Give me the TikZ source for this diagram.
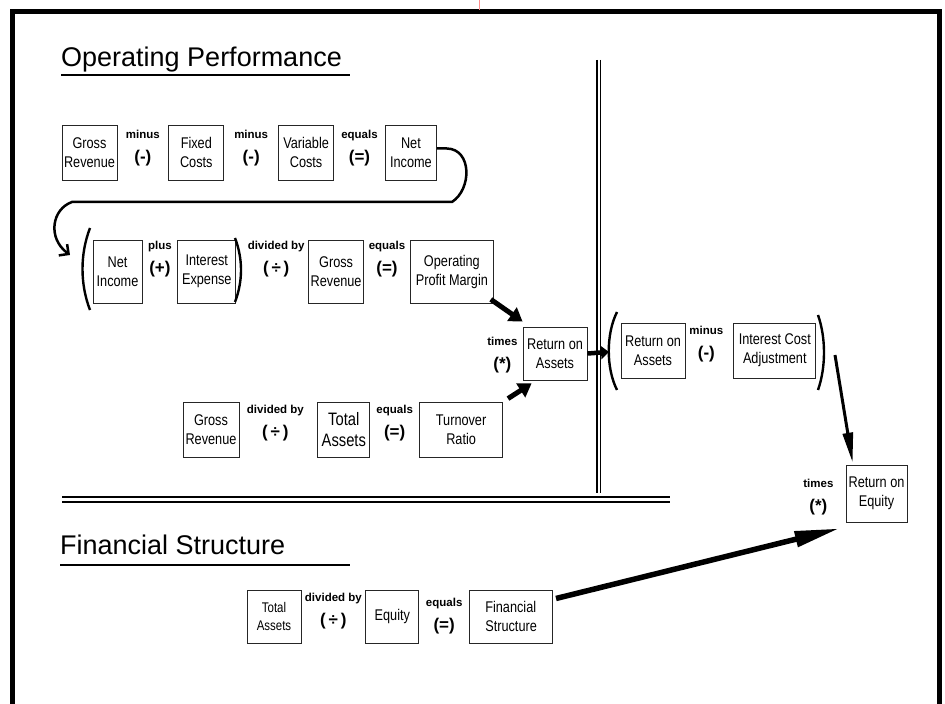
\documentclass[tikz,border=0pt]{standalone}
\usepackage{fontspec}
\setmainfont{Liberation Sans}
\newfontfamily\narrowfont{Liberation Sans}[FakeStretch=0.82]
\usetikzlibrary{arrows.meta, positioning, calc}
\newcommand{\opsign}[1]{{\fontsize{17}{24}\selectfont #1}}

\begin{document}
\begin{tikzpicture}[
        x=1pt, y=1pt,
        box/.style={rectangle, draw=black!85, line width=0.8pt, minimum width=55pt, minimum height=55pt, inner sep=1pt, align=center, font=\narrowfont\fontsize{15.5}{19}\selectfont},
        widebox/.style={box, minimum width=83pt},
        op/.style={align=center, inner sep=0pt, font=\bfseries\fontsize{11.5}{24}\selectfont},
        heading/.style={anchor=base west, inner sep=0pt, font=\fontsize{27}{30}\selectfont},
        fatarrow/.style={-{Triangle[length=13pt, width=16pt]}, line width=5pt},
        longarrow/.style={-{Triangle[length=30pt, width=10pt]}, line width=3pt},
        paren/.style={line width=2.4pt},
        frame/.style={line width=5pt},
        rule/.style={line width=1.2pt}
        ]
        \useasboundingbox (0,0) rectangle (945,704);
        \draw[frame] (12,-10) -- (12,692.5) -- (939,692.5) -- (939,-10);
        \draw[red!45, line width=1pt] (479,704) -- (479,694);

        % Headings and separators
        \node[heading] (optitle) at (61,637) {Operating Performance};
        \draw[rule] (61,629) -- (350,629);
        \node[heading] (fintitle) at (60,149) {Financial Structure};
        \draw[rule] (60,139) -- (350,139);
        \draw[rule] (597,644) -- (597,211);
        \draw[rule] (600.5,644) -- (600.5,211);
        \draw[rule] (62,207) -- (670,207);
        \draw[rule] (62,202) -- (670,202);

        % Boxes
        \node[box] (gr1) at (89.5,551.5) {Gross\\Revenue};
        \node[box, right=51pt of gr1] (fc) {Fixed\\Costs};
        \node[box, right=54pt of fc] (vc) {Variable\\Costs};
        \node[box, minimum width=51pt, right=51pt of vc] (ni1) {Net\\Income};

        \node[box, minimum width=49pt, minimum height=63pt] (ni2) at (117.5,432.5) {Net\\Income};
        \node[box, minimum width=58pt, minimum height=63pt, right=35pt of ni2] (ie) {Interest\\Expense};
        \node[box, minimum height=63pt, right=72pt of ie] (gr2) {Gross\\Revenue};
        \node[widebox, minimum height=63pt, right=46pt of gr2] (opm) {Operating\\Profit Margin};

        \node[box, minimum width=56pt] (gr3) at (211,274.5) {Gross\\Revenue};
        \node[box, minimum width=52pt, right=78pt of gr3, font=\narrowfont\fontsize{18}{21}\selectfont] (ta1) {Total\\Assets};
        \node[widebox, right=49pt of ta1] (tr) {Turnover\\Ratio};

        \node[box, minimum width=64pt, minimum height=53pt] (roa1) at (555,350.5) {Return on\\Assets};

        \node[box, minimum width=64pt] (roa2) at (653,353.5) {Return on\\Assets};
        \node[box, minimum width=82pt, right=48pt of roa2] (ica) {Interest Cost\\Adjustment};

        \node[box, minimum width=61pt, minimum height=57pt] (roe) at (876.5,210.5) {Return on\\Equity};

        \node[box, minimum width=54pt, minimum height=53pt, font=\narrowfont\fontsize{14}{18}\selectfont] (ta2) at (274,87.5) {Total\\Assets};
        \node[box, minimum width=53pt, minimum height=53pt, right=64pt of ta2] (eq) {Equity};
        \node[widebox, minimum height=53pt, right=50pt of eq, align=left] (fs) {Financial\\Structure};

        % Operators
        \node[op, yshift=4pt] (minus1) at ($(gr1.east)!0.5!(fc.west)$) {minus\\\opsign{(-)}};
        \node[op, yshift=4pt] (minus2) at ($(fc.east)!0.5!(vc.west)$) {minus\\\opsign{(-)}};
        \node[op, yshift=4pt] (equals1) at ($(vc.east)!0.5!(ni1.west)$) {equals\\\opsign{(=)}};
        \node[op, yshift=12pt] (plus) at ($(ni2.east)!0.5!(ie.west)$) {plus\\\opsign{(+)}};
        \node[op, yshift=12pt, xshift=4pt] (divided1) at ($(ie.east)!0.5!(gr2.west)$) {divided by\\\opsign{(\,÷\,)}};
        \node[op, yshift=12pt] (equals2) at ($(gr2.east)!0.5!(opm.west)$) {equals\\\opsign{(=)}};
        \node[op, yshift=6pt, xshift=-3pt] (divided2) at ($(gr3.east)!0.5!(ta1.west)$) {divided by\\\opsign{(\,÷\,)}};
        \node[op, yshift=6pt] (equals3) at ($(ta1.east)!0.5!(tr.west)$) {equals\\\opsign{(=)}};
        \node[op, left=5pt of roa1, yshift=-2pt] (times1) {times\\\opsign{(*)}};
        \node[op, yshift=6pt, xshift=-3pt] (minus3) at ($(roa2.east)!0.5!(ica.west)$) {minus\\\opsign{(-)}};
        \node[op, left=12pt of roe, yshift=-4pt] (times2) {times\\\opsign{(*)}};
        \node[op, yshift=5pt] (divided3) at ($(ta2.east)!0.5!(eq.west)$) {divided by\\\opsign{(\,÷\,)}};
        \node[op, yshift=0pt] (equals4) at ($(eq.east)!0.5!(fs.west)$) {equals\\\opsign{(=)}};

        % Brackets
        \draw[paren] (90,476) .. controls (80,450) and (80,420) .. (90,394);
        \draw[paren] (235,466) .. controls (243,445) and (243,423) .. (235,402);
        \draw[paren] (617,392) .. controls (606,370) and (606,336) .. (617,314);
        \draw[paren] (818,389) .. controls (826,366) and (826,337) .. (818,314);

        % Arrows
        \coordinate (loopend) at (70,449);
        \coordinate (bracket) at (609,352);
        \coordinate (icaout) at (835,349);
        \draw[line width=2.5pt, -{Straight Barb[length=7pt, width=14pt]}] ([yshift=4pt]ni1.east) -- ++(10,0)
            .. controls (472,555) and (472,515) .. (452,502) -- (72,502)
            .. controls (52,495) and (47,466) .. (loopend);
        \draw[fatarrow] ([xshift=-3pt, yshift=4pt]opm.south east) -- ([yshift=5pt]roa1.north west);
        \draw[fatarrow] ([xshift=5pt, yshift=3pt]tr.north east) -- ([xshift=9pt, yshift=-3pt]roa1.south west);
        \draw[-{Triangle[length=8pt, width=13pt]}, line width=4.5pt] (roa1.east) -- (bracket);
        \draw[longarrow] (icaout) -- ([xshift=7pt, yshift=2pt]roe.north west);
        \draw[-{Triangle[length=45pt, width=15pt]}, line width=5.5pt] ([xshift=3pt, yshift=18pt]fs.east) -- ([xshift=-6pt, yshift=-6pt]roe.south west);
\end{tikzpicture}
\end{document}
